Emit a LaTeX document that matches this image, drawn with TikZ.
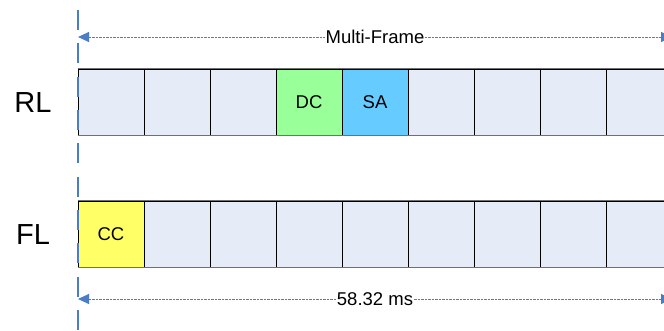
\documentclass[tikz,border=0pt]{standalone}
\usepackage{fontspec}
\setmainfont{Liberation Sans}
\usetikzlibrary{arrows.meta}
\definecolor{cellfill}{HTML}{E6ECF7}
\definecolor{dcgreen}{HTML}{99FF99}
\definecolor{sablue}{HTML}{66CCFF}
\definecolor{ccyellow}{HTML}{FFFF66}
\definecolor{guideblue}{HTML}{4A7CC7}
\definecolor{rowgray}{HTML}{707070}
\tikzset{
  cell/.style={draw=black, line width=0.8pt, fill=cellfill, minimum width=66pt, minimum height=66pt, inner sep=0pt, font=\fontsize{18.5}{22}\selectfont},
  rowlabel/.style={font=\fontsize{29}{34}\selectfont, inner sep=0pt},
  span/.style={guideblue, dash pattern=on 0.8pt off 0.6pt, line width=0.9pt, {Triangle[length=11pt,width=10pt]}-{Triangle[length=11pt,width=10pt]}},
  spanlabel/.style={fill=white, inner sep=1pt, text=black, font=\fontsize{18.5}{22}\selectfont},
  guide/.style={guideblue, line width=2.5pt, dash pattern=on 20pt off 13.33pt}
}
\begin{document}
\begin{tikzpicture}[x=1pt,y=1pt]
\clip (0,0) rectangle (664,331);
\fill[white] (0,0) rectangle (664,331);
% RL row
\foreach \i in {0,...,8}{
  \node[cell] (r\i) at ({111+66*\i},229) {};
}
\node[cell, fill=dcgreen] (dc) at (309,229) {DC};
\node[cell, fill=sablue] (sa) at (375,229) {SA};
% FL row
\foreach \i in {0,...,8}{
  \node[cell] (f\i) at ({111+66*\i},97) {};
}
\node[cell, fill=ccyellow] (cc) at (111,97) {CC};
% gray top/bottom edges
\draw[rowgray, line width=1.4pt] (r0.north west) -- (r8.north east);
\draw[rowgray, line width=1.4pt] (r0.south west) -- (r8.south east);
\draw[rowgray, line width=1.4pt] (f0.north west) -- (f8.north east);
\draw[rowgray, line width=1.4pt] (f0.south west) -- (f8.south east);
% row labels
\node[rowlabel] (rl) at (33,228) {RL};
\node[rowlabel] (fl) at (33,96) {FL};
% vertical guide
\coordinate (gtop) at (78,321);
\coordinate (gbot) at (78,-10);
\draw[guide] (gtop) -- (gbot);
% span arrows
\coordinate (mfl) at (78,294);
\coordinate (mfr) at (672,294);
\draw[span] (mfl) -- (mfr) node[midway, spanlabel] {Multi-Frame};
\coordinate (msl) at (78,32);
\coordinate (msr) at (672,32);
\draw[span] (msl) -- (msr) node[midway, spanlabel] {58.32 ms};
\end{tikzpicture}
\end{document}
